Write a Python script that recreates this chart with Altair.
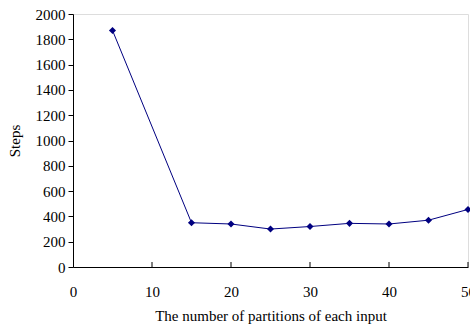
import altair as alt
import pandas as pd

partitions = [5, 15, 20, 25, 30, 35, 40, 45, 50]
steps = [1870, 350, 340, 300, 320, 345, 340, 370, 455]
x_ticks = [0, 10, 20, 30, 40, 50]
y_ticks = [0, 200, 400, 600, 800, 1000, 1200, 1400, 1600, 1800, 2000]

df = pd.DataFrame({"partitions": partitions, "steps": steps})
tick_df = pd.DataFrame({"t": x_ticks[1:]})

W, H = 395, 253
FONT = "Liberation Serif"
FS = 15

xscale = alt.Scale(domain=[0, 50], nice=False)
yscale = alt.Scale(domain=[0, 2000], nice=False)

xaxis = alt.Axis(values=x_ticks, title="The number of partitions of each input",
                 format="d", ticks=False, labelPadding=17, titlePadding=9, grid=False,
                 labelFlush=False, labelOverlap=False, labelBound=False,
                 domainColor="black", labelColor="black", titleColor="black",
                 labelFont=FONT, titleFont=FONT, labelFontSize=FS, titleFontSize=FS,
                 titleFontWeight="normal")
yaxis = alt.Axis(values=y_ticks, title="Steps", format="d", tickSize=5, labelPadding=3,
                 labelFlush=False, labelOverlap=False, labelBound=False,
                 grid=False, domainColor="black", tickColor="black",
                 labelColor="black", titleColor="black", titlePadding=13,
                 labelFont=FONT, titleFont=FONT, labelFontSize=FS, titleFontSize=FS,
                 titleFontWeight="normal")

line = alt.Chart(df).mark_line(color="#000080", strokeWidth=1).encode(
    x=alt.X("partitions:Q", scale=xscale, axis=xaxis),
    y=alt.Y("steps:Q", scale=yscale, axis=yaxis),
)

pts = alt.Chart(df).mark_point(shape="diamond", filled=True, color="#000080",
                               size=50, opacity=1).encode(
    x=alt.X("partitions:Q", scale=xscale, axis=xaxis),
    y=alt.Y("steps:Q", scale=yscale, axis=yaxis),
)

ticks = alt.Chart(tick_df).mark_rule(color="black", strokeWidth=1).encode(
    x=alt.X("t:Q", scale=xscale, axis=xaxis),
    y=alt.value(H),
    y2=alt.value(H - 5),
)

chart = (line + ticks + pts).properties(
    width=W, height=H,
    autosize=alt.AutoSizeParams(type="none"),
    padding={"left": 73, "top": 14, "right": 2, "bottom": 61},
).configure_view(stroke="#999999", strokeWidth=1).configure(background="white")

chart.save("out.html", embed_options={"renderer": "svg", "actions": False})
